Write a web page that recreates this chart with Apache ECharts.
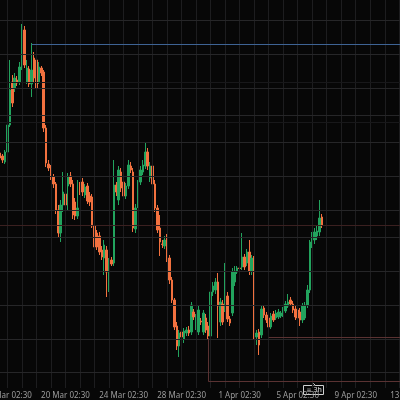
<!DOCTYPE html>
<html>
<head>
<meta charset="utf-8">
<script src="https://cdn.jsdelivr.net/npm/echarts@6/dist/echarts.min.js"></script>
<style>
html,body{margin:0;padding:0;background:#070707;}
#c{width:400px;height:400px;}
</style>
</head>
<body>
<div id="c"></div>
<script>
// ---- data (price units; no price scale visible in the reference) ----
const opens = [247,244,238,248,275,318,312,320,318,333,
370,318,331,316,342,340,318,332,328,272,
236,232,223,216,190,167,195,206,214,224,
216,198,184,215,218,205,214,204,203,174,
167,164,150,142,150,112,140,137,215,200,
228,218,204,214,234,228,171,195,218,228,
234,248,222,234,216,192,172,156,154,162,
142,120,100,74,54,68,61,67,70,68,
88,74,68,79,68,82,74,64,108,110,
118,78,96,92,104,81,87,118,128,132,
133,143,137,148,129,142,63,68,65,92,
85,82,73,86,82,83,84,85,89,94,
100,96,91,90,88,80,82,95,110,157,
160,164,168,183];
const closes = [242,240,248,275,310,297,322,317,333,370,
335,332,316,330,322,312,333,327,272,237,
232,223,216,190,167,195,208,195,223,216,
185,184,192,210,208,213,199,198,174,153,
153,148,143,155,128,138,136,215,208,230,
212,204,214,235,230,172,192,216,230,235,
248,234,234,216,192,170,158,155.5,160,142,
120,100,73,54,67,63,69,70,67,95,
83,82,90,78,87,70,64,108,114,118,
94,98,78,104,81,77,128,129,132,131.5,
143,133,148,129,142,64,67,55,91,85,
80,73,84,80,87,88,87,90,96,98,
96,90,83,82,80,94,95,110,158,162,
168,169,182,175];
const lows = [237,237,236,245,273,293,308,314,315,330,
332,316,313,303,318,308,316,324,268,233,
229,220,212,186,162,158,188,192,190,213,
181,180,181,205,204,202,196,194,172,150,
150,145,140,125,103,108,134,134,204,195,
208,201,201,211,227,168,167,192,215,225,
231,230,218,212,188,167,144,152,151,138,
116,97,70,50,43,59,57,64,64,65,
80,70,65,75,65,67,60,60,104,106,
62,74,75,88,78,74,84,114,126,130,
130,130,134,125,125,60,55,45,62,82,
77,70,71,78,80,81,82,83,87,92,
94,87,80,73,74,77,80,92,107,152,
156,160,164,172];
const highs = [250,246,250,278,340,325,327,324,338,376,
374,340,334,357,348,345,338,334,330,275,
240,235,226,218,195,200,228,210,227,228,
220,202,220,218,222,216,217,208,206,178,
170,168,154,160,154,142,143,240,218,234,
232,222,217,240,238,232,196,220,234,240,
258,252,238,238,220,195,185,160,164,166,
145,123,102,78,70,72,72,73,74,98,
91,86,94,82,90,86,78,112,118,122,
127,102,100,137,108,84,132,134,134,134,
167,146,151,160,145,144,70,71,95,95,
88,85,87,89,90,91,89,93,99,106,
103,99,94,94,92,97,98,115,160,168,
172,174,200,186];

// 4h bars, first bar 15 Mar 14:30; axis keeps empty future slots
const barCount = 172;
const months = ['Jan','Feb','Mar','Apr','May','Jun','Jul','Aug','Sep','Oct','Nov','Dec'];
const categories = [];
for (let i = 0; i < barCount; i++) {
  const d = new Date(Date.UTC(2025, 2, 15, 14, 30) + i * 4 * 3600 * 1000);
  const hh = String(d.getUTCHours()).padStart(2, '0');
  const mm = String(d.getUTCMinutes()).padStart(2, '0');
  categories.push(d.getUTCDate() + ' ' + months[d.getUTCMonth()] + ' ' + hh + ':' + mm);
}
const tickLabels = ['16 Mar 02:30','20 Mar 02:30','24 Mar 02:30','28 Mar 02:30','1 Apr 02:30','5 Apr 02:30','9 Apr 02:30','13 Apr 02:30'];
const dayLines = categories.filter(c => c.endsWith('02:30'));
const priceGridLevels = [380,346,312,285,258,224,190,163,129,95,61,28];
const priceGridFaint = [318,278];

// drawn levels
const blueLevel = 355.7, blueStart = 13;
const redLevelA = 63, redStartA = 111;
const redLevelB = 19, redStartB = 86, redTopB = 62;

const candleData = opens.map((o, i) => [o, closes[i], lows[i], highs[i]]);
const lastClose = closes[closes.length - 1];
const lastCat = categories[barCount - 1];

const chart = echarts.init(document.getElementById('c'), null, {renderer: 'canvas'});
chart.setOption({
  backgroundColor: '#070707',
  animation: false,
  grid: {left: -1, right: -15, top: 0, bottom: 12, containLabel: false, outerBoundsMode: 'none'},
  xAxis: {
    type: 'category',
    data: categories,
    boundaryGap: true,
    axisLine: {show: false},
    axisTick: {show: false},
    splitLine: {show: false},
    axisLabel: {
      interval: (idx, val) => tickLabels.includes(val),
      color: '#9c9c9c',
      fontSize: 8,
      fontFamily: 'Noto Sans',
      margin: 4,
      hideOverlap: false
    }
  },
  yAxis: {
    type: 'value', min: 12, max: 400, show: false, splitLine: {show: false}
  },
  series: [
    {
      type: 'line', data: [], z: 1, silent: true,
      markLine: {
        silent: true, symbol: ['none','none'], label: {show: false}, animation: false,
        data: [
          ...dayLines.map(c => ({xAxis: c, lineStyle: {color: '#1d1d1f', width: 1, type: 'solid'}})),
          ...priceGridLevels.map(v => ({yAxis: v, lineStyle: {color: '#262628', width: 1, type: 'solid'}})),
          ...priceGridFaint.map(v => ({yAxis: v, lineStyle: {color: '#18181a', width: 1, type: 'solid'}})),
          {yAxis: lastClose, lineStyle: {color: '#3b2020', width: 1, type: 'solid'}}
        ]
      }
    },
    {
      type: 'candlestick', z: 3,
      data: candleData,
      barWidth: 2,
      itemStyle: {
        color: '#22a35d', color0: '#f2713f',
        borderColor: '#22a35d', borderColor0: '#f2713f', borderWidth: 1
      },
      markLine: {
        silent: true, symbol: ['none','none'], label: {show: false}, animation: false,
        data: [
          [{coord: [categories[blueStart], blueLevel], lineStyle: {color: '#3e6394', width: 1, type: 'solid'}}, {coord: [lastCat, blueLevel]}],
          [{coord: [categories[redStartA], redLevelA], lineStyle: {color: '#5a3232', width: 1, type: 'solid'}}, {coord: [lastCat, redLevelA]}],
          [{coord: [categories[redStartB], redTopB], lineStyle: {color: '#5a3232', width: 1, type: 'solid'}}, {coord: [categories[redStartB], redLevelB]}],
          [{coord: [categories[redStartB], redLevelB], lineStyle: {color: '#5a3232', width: 1, type: 'solid'}}, {coord: [lastCat, redLevelB]}]
        ]
      }
    }
  ],
  graphic: [
    {type: 'group', left: 303, top: 383, z: 100, children: [
      {type: 'rect', shape: {x: 0, y: 2, width: 20, height: 9}, style: {fill: '#070707', stroke: '#d0d0d0', lineWidth: 1}},
      {type: 'polyline', shape: {points: [[8,2],[10,0],[12,2]]}, style: {stroke: '#d0d0d0', fill: '#070707', lineWidth: 1}},
      {type: 'text', style: {x: 3, y: 6.5, text: '≡', fill: '#cfcfcf', fontSize: 6, verticalAlign: 'middle', fontFamily: 'DejaVu Sans'}},
      {type: 'text', style: {x: 10, y: 6.5, text: '3h', fill: '#e0e0e0', fontSize: 7, verticalAlign: 'middle', fontFamily: 'Noto Sans'}}
    ]}
  ]
});
</script>
</body>
</html>
